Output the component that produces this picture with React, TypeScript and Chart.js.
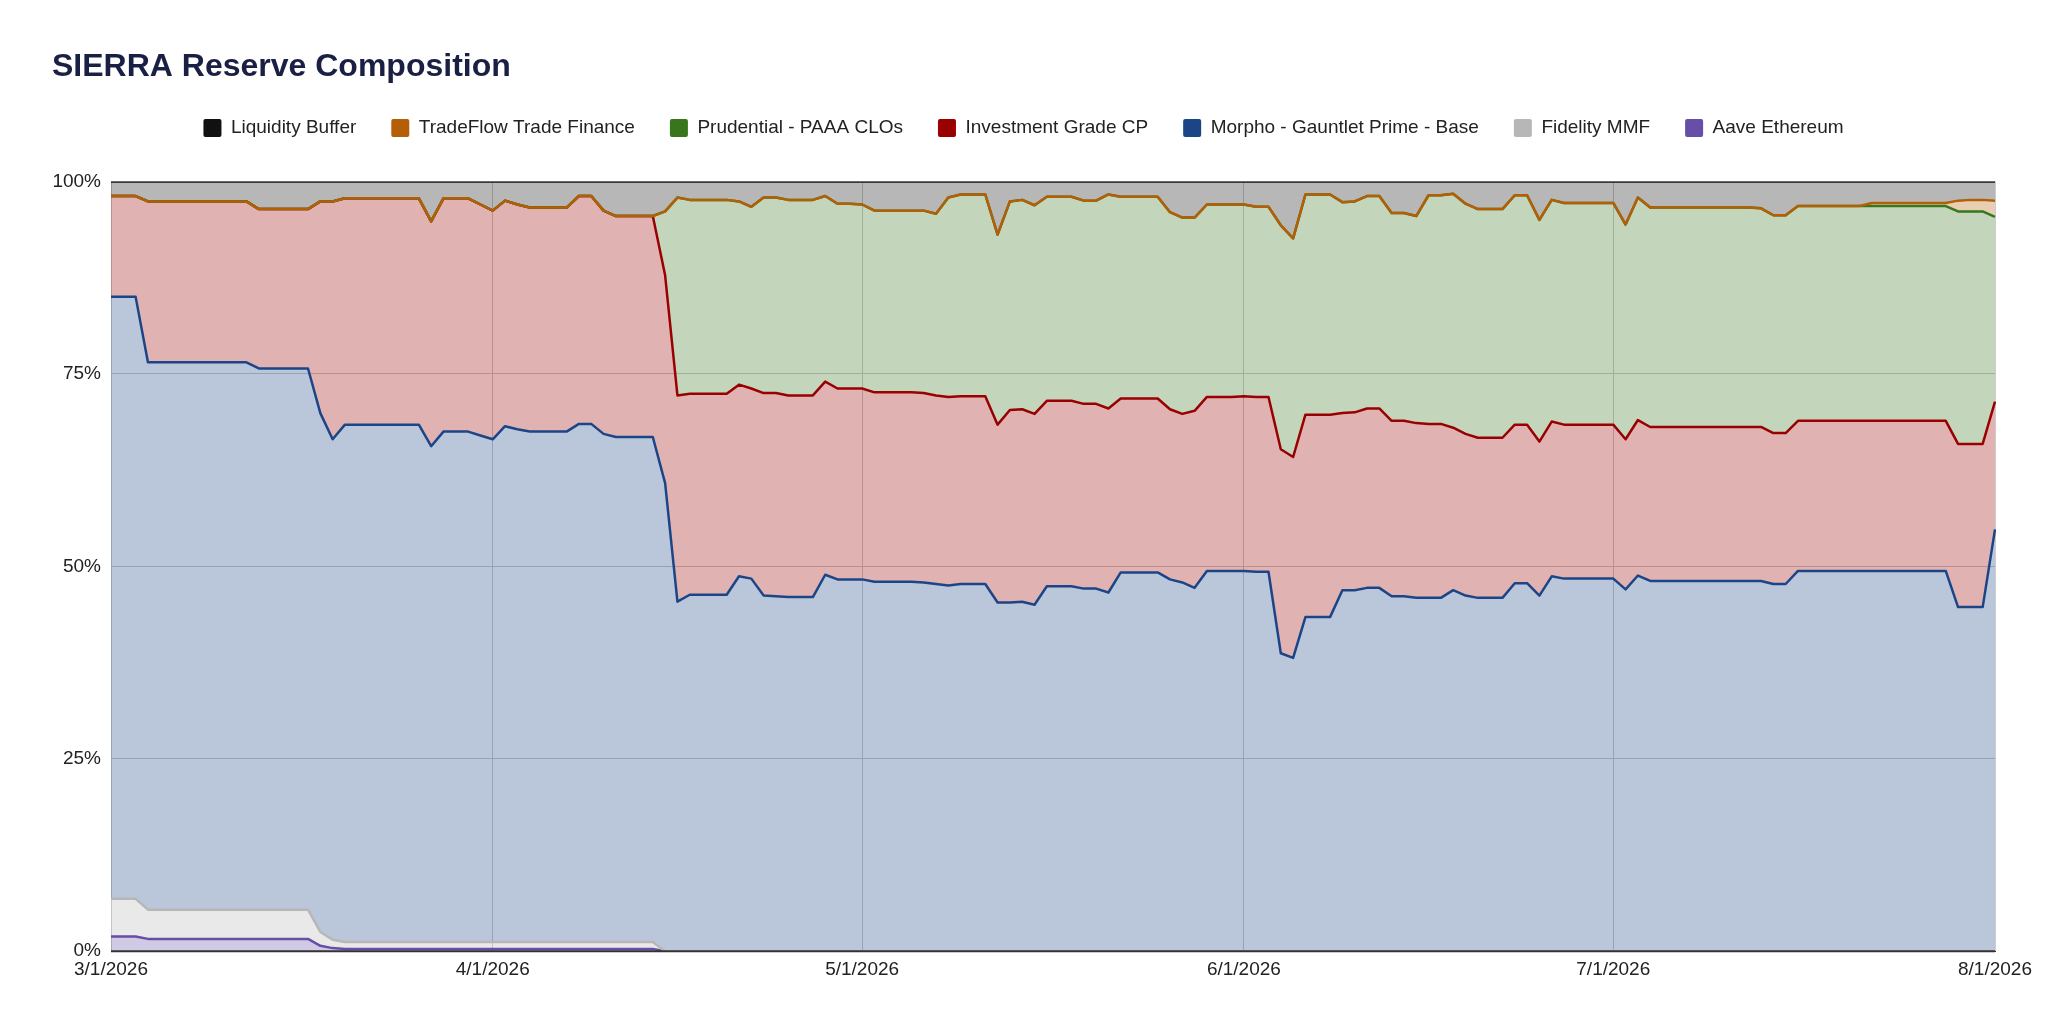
import React, { useEffect, useRef } from 'react';
import Chart from 'chart.js/auto';

const FONT = "'Liberation Sans', Arial, Helvetica, sans-serif";

// daily points, 3/1/2026 .. 8/1/2026
const months: [number, number][] = [[3, 31], [4, 30], [5, 31], [6, 30], [7, 31], [8, 1]];
const dates: string[] = months.flatMap(([m, n]) =>
  Array.from({ length: n }, (_, i) => `${m}/${i + 1}/2026`)
);
const tickLabels = ['3/1/2026', '4/1/2026', '5/1/2026', '6/1/2026', '7/1/2026', '8/1/2026'];
const yTicks = [0, 25, 50, 75, 100];

const seriesNames = [
  'Liquidity Buffer',
  'TradeFlow Trade Finance',
  'Prudential - PAAA CLOs',
  'Investment Grade CP',
  'Morpho - Gauntlet Prime - Base',
  'Fidelity MMF',
  'Aave Ethereum',
];
const seriesColors = ['#111111', '#b45f06', '#38761d', '#990000', '#1c4587', '#b7b7b7', '#674ea7'];

// share of reserve, % (one row per month)
const liquidity = [
  1.9, 1.9, 1.9, 2.6, 2.6, 2.6, 2.6, 2.6, 2.6, 2.6, 2.6, 2.6, 3.6, 3.6, 3.6, 3.6, 3.6, 2.6, 2.6, 2.2, 2.2, 2.2, 2.2, 2.2, 2.2, 2.2, 5.2, 2.2, 2.2, 2.2, 3.0,
  3.8, 2.5, 3.0, 3.4, 3.4, 3.4, 3.4, 1.9, 1.9, 3.8, 4.5, 4.5, 4.5, 4.5, 3.9, 2.1, 2.4, 2.4, 2.4, 2.4, 2.6, 3.3, 2.1, 2.1, 2.4, 2.4, 2.4, 1.9, 2.9, 2.9,
  3.0, 3.8, 3.8, 3.8, 3.8, 3.8, 4.2, 2.1, 1.7, 1.7, 1.7, 6.9, 2.6, 2.4, 3.1, 2.0, 2.0, 2.0, 2.5, 2.5, 1.7, 2.0, 2.0, 2.0, 2.0, 4.0, 4.7, 4.7, 3.0, 3.0, 3.0,
  3.0, 3.3, 3.3, 5.7, 7.4, 1.7, 1.7, 1.7, 2.7, 2.6, 1.9, 1.9, 4.1, 4.1, 4.5, 1.8, 1.8, 1.6, 2.9, 3.6, 3.6, 3.6, 1.8, 1.8, 5.0, 2.4, 2.8, 2.8, 2.8, 2.8,
  2.8, 5.6, 2.1, 3.4, 3.4, 3.4, 3.4, 3.4, 3.4, 3.4, 3.4, 3.4, 3.5, 4.4, 4.4, 3.2, 3.2, 3.2, 3.2, 3.2, 3.2, 2.8, 2.8, 2.8, 2.8, 2.8, 2.8, 2.8, 2.5, 2.4, 2.4,
  2.5,
];
const tradeflow = [
  0, 0, 0, 0, 0, 0, 0, 0, 0, 0, 0, 0, 0, 0, 0, 0, 0, 0, 0, 0, 0, 0, 0, 0, 0, 0, 0, 0, 0, 0, 0,
  0, 0, 0, 0, 0, 0, 0, 0, 0, 0, 0, 0, 0, 0, 0, 0, 0, 0, 0, 0, 0, 0, 0, 0, 0, 0, 0, 0, 0, 0,
  0, 0, 0, 0, 0, 0, 0, 0, 0, 0, 0, 0, 0, 0, 0, 0, 0, 0, 0, 0, 0, 0, 0, 0, 0, 0, 0, 0, 0, 0, 0,
  0, 0, 0, 0, 0, 0, 0, 0, 0, 0, 0, 0, 0, 0, 0, 0, 0, 0, 0, 0, 0, 0, 0, 0, 0, 0, 0, 0, 0, 0,
  0, 0, 0, 0, 0, 0, 0, 0, 0, 0, 0, 0, 0, 0, 0, 0, 0, 0, 0, 0, 0, 0.4, 0.4, 0.4, 0.4, 0.4, 0.4, 0.4, 1.4, 1.5, 1.5,
  2.1,
];
const prudential = [
  0, 0, 0, 0, 0, 0, 0, 0, 0, 0, 0, 0, 0, 0, 0, 0, 0, 0, 0, 0, 0, 0, 0, 0, 0, 0, 0, 0, 0, 0, 0,
  0, 0, 0, 0, 0, 0, 0, 0, 0, 0, 0, 0, 0, 0, 8.3, 25.7, 25.2, 25.2, 25.2, 25.2, 23.8, 23.6, 25.4, 25.4, 25.4, 25.4, 25.4, 24.1, 24.0, 24.0,
  23.9, 23.6, 23.6, 23.6, 23.6, 23.7, 23.6, 25.9, 26.2, 26.2, 26.2, 24.7, 27.1, 27.2, 27.1, 26.5, 26.5, 26.5, 26.4, 26.4, 27.8, 26.2, 26.2, 26.2, 26.2, 25.6, 25.5, 25.1, 25.0, 25.0, 25.0,
  24.9, 24.7, 24.7, 29.1, 28.4, 28.6, 28.6, 28.6, 27.4, 27.4, 27.6, 27.6, 27.0, 27.0, 26.9, 29.7, 29.7, 30.4, 29.9, 29.7, 29.7, 29.7, 29.8, 29.8, 28.8, 28.8, 28.8, 28.8, 28.8, 28.8,
  28.8, 27.9, 28.9, 28.5, 28.5, 28.5, 28.5, 28.5, 28.5, 28.5, 28.5, 28.5, 28.4, 28.3, 28.3, 27.9, 27.9, 27.9, 27.9, 27.9, 27.9, 27.9, 27.9, 27.9, 27.9, 27.9, 27.9, 27.9, 30.2, 30.2, 30.2,
  24.0,
];
const igcp = [
  13.1, 13.1, 13.1, 20.9, 20.9, 20.9, 20.9, 20.9, 20.9, 20.9, 20.9, 20.9, 20.7, 20.7, 20.7, 20.7, 20.7, 27.5, 30.9, 29.4, 29.4, 29.4, 29.4, 29.4, 29.4, 29.4, 29.2, 30.3, 30.3, 30.3, 30.0,
  29.7, 29.3, 29.2, 29.1, 29.1, 29.1, 29.1, 29.6, 29.6, 29.0, 28.7, 28.7, 28.7, 28.7, 27.0, 26.8, 26.1, 26.1, 26.1, 26.1, 24.9, 24.7, 26.3, 26.4, 26.2, 26.2, 26.2, 25.1, 24.8, 24.8,
  24.8, 24.6, 24.6, 24.6, 24.6, 24.6, 24.5, 24.5, 24.4, 24.4, 24.4, 23.1, 25.0, 25.0, 24.8, 24.1, 24.1, 24.1, 24.0, 24.0, 23.9, 22.6, 22.6, 22.6, 22.6, 22.1, 21.9, 23.0, 22.6, 22.6, 22.6,
  22.7, 22.7, 22.7, 26.5, 26.1, 26.3, 26.3, 26.3, 23.0, 23.1, 23.3, 23.3, 22.8, 22.8, 22.7, 22.6, 22.6, 21.1, 21.0, 20.8, 20.8, 20.8, 20.6, 20.6, 20.0, 20.1, 20.0, 20.0, 20.0, 20.0,
  20.0, 19.5, 20.2, 20.0, 20.0, 20.0, 20.0, 20.0, 20.0, 20.0, 20.0, 20.0, 20.0, 19.6, 19.6, 19.5, 19.5, 19.5, 19.5, 19.5, 19.5, 19.5, 19.5, 19.5, 19.5, 19.5, 19.5, 19.5, 21.2, 21.2, 21.2,
  16.6,
];
const morpho = [
  78.2, 78.2, 78.2, 71.1, 71.1, 71.1, 71.1, 71.1, 71.1, 71.1, 71.1, 71.1, 70.3, 70.3, 70.3, 70.3, 70.3, 67.4, 65.0, 67.2, 67.2, 67.2, 67.2, 67.2, 67.2, 67.2, 64.4, 66.3, 66.3, 66.3, 65.8,
  65.3, 67.0, 66.6, 66.3, 66.3, 66.3, 66.3, 67.3, 67.3, 66.0, 65.6, 65.6, 65.6, 65.6, 60.8, 45.4, 46.3, 46.3, 46.3, 46.3, 48.7, 48.4, 46.2, 46.1, 46.0, 46.0, 46.0, 48.9, 48.3, 48.3,
  48.3, 48.0, 48.0, 48.0, 48.0, 47.9, 47.7, 47.5, 47.7, 47.7, 47.7, 45.3, 45.3, 45.4, 45.0, 47.4, 47.4, 47.4, 47.1, 47.1, 46.6, 49.2, 49.2, 49.2, 49.2, 48.3, 47.9, 47.2, 49.4, 49.4, 49.4,
  49.4, 49.3, 49.3, 38.7, 38.1, 43.4, 43.4, 43.4, 46.9, 46.9, 47.2, 47.2, 46.1, 46.1, 45.9, 45.9, 45.9, 46.9, 46.2, 45.9, 45.9, 45.9, 47.8, 47.8, 46.2, 48.7, 48.4, 48.4, 48.4, 48.4,
  48.4, 47.0, 48.8, 48.1, 48.1, 48.1, 48.1, 48.1, 48.1, 48.1, 48.1, 48.1, 48.1, 47.7, 47.7, 49.4, 49.4, 49.4, 49.4, 49.4, 49.4, 49.4, 49.4, 49.4, 49.4, 49.4, 49.4, 49.4, 44.7, 44.7, 44.7,
  54.8,
];
const fidelity = [
  4.9, 4.9, 4.9, 3.8, 3.8, 3.8, 3.8, 3.8, 3.8, 3.8, 3.8, 3.8, 3.8, 3.8, 3.8, 3.8, 3.8, 1.8, 1.1, 0.9, 0.9, 0.9, 0.9, 0.9, 0.9, 0.9, 0.9, 0.9, 0.9, 0.9, 0.9,
  0.9, 0.9, 0.9, 0.9, 0.9, 0.9, 0.9, 0.9, 0.9, 0.9, 0.9, 0.9, 0.9, 0.9, 0, 0, 0, 0, 0, 0, 0, 0, 0, 0, 0, 0, 0, 0, 0, 0,
  0, 0, 0, 0, 0, 0, 0, 0, 0, 0, 0, 0, 0, 0, 0, 0, 0, 0, 0, 0, 0, 0, 0, 0, 0, 0, 0, 0, 0, 0, 0,
  0, 0, 0, 0, 0, 0, 0, 0, 0, 0, 0, 0, 0, 0, 0, 0, 0, 0, 0, 0, 0, 0, 0, 0, 0, 0, 0, 0, 0, 0,
  0, 0, 0, 0, 0, 0, 0, 0, 0, 0, 0, 0, 0, 0, 0, 0, 0, 0, 0, 0, 0, 0, 0, 0, 0, 0, 0, 0, 0, 0, 0,
  0,
];
const aave = [
  1.9, 1.9, 1.9, 1.6, 1.6, 1.6, 1.6, 1.6, 1.6, 1.6, 1.6, 1.6, 1.6, 1.6, 1.6, 1.6, 1.6, 0.7, 0.4, 0.3, 0.3, 0.3, 0.3, 0.3, 0.3, 0.3, 0.3, 0.3, 0.3, 0.3, 0.3,
  0.3, 0.3, 0.3, 0.3, 0.3, 0.3, 0.3, 0.3, 0.3, 0.3, 0.3, 0.3, 0.3, 0.3, 0, 0, 0, 0, 0, 0, 0, 0, 0, 0, 0, 0, 0, 0, 0, 0,
  0, 0, 0, 0, 0, 0, 0, 0, 0, 0, 0, 0, 0, 0, 0, 0, 0, 0, 0, 0, 0, 0, 0, 0, 0, 0, 0, 0, 0, 0, 0,
  0, 0, 0, 0, 0, 0, 0, 0, 0, 0, 0, 0, 0, 0, 0, 0, 0, 0, 0, 0, 0, 0, 0, 0, 0, 0, 0, 0, 0, 0,
  0, 0, 0, 0, 0, 0, 0, 0, 0, 0, 0, 0, 0, 0, 0, 0, 0, 0, 0, 0, 0, 0, 0, 0, 0, 0, 0, 0, 0, 0, 0,
  0,
];

const series = [liquidity, tradeflow, prudential, igcp, morpho, fidelity, aave];

const hexToRgba = (hex: string, a: number) => {
  const n = parseInt(hex.slice(1), 16);
  return `rgba(${(n >> 16) & 255}, ${(n >> 8) & 255}, ${n & 255}, ${a})`;
};

// stack from the bottom series (last) up to the top one (first)
const stacked: number[][] = [];
for (let i = series.length - 1; i >= 0; i--) {
  const below = i < series.length - 1 ? stacked[i + 1] : null;
  stacked[i] = series[i].map((v, k) => Math.round((v + (below ? below[k] : 0)) * 100) / 100);
}

// push the plot area down below the legend
const legendGap = {
  id: 'legendGap',
  beforeLayout(chart: any) {
    const lg = chart.legend;
    if (lg && !lg._gapPatched) {
      const fit = lg.fit;
      lg.fit = function () {
        fit.call(lg);
        lg.height += 34;
      };
      lg._gapPatched = true;
    }
  },
};

// dark zero line drawn over the areas
const baseline = {
  id: 'baseline',
  afterDatasetsDraw(chart: any) {
    const { ctx, chartArea, scales } = chart;
    const y = scales.y.getPixelForValue(0);
    ctx.save();
    ctx.strokeStyle = '#333333';
    ctx.lineWidth = 2;
    ctx.beginPath();
    ctx.moveTo(chartArea.left, y);
    ctx.lineTo(chartArea.right, y);
    ctx.stroke();
    ctx.restore();
  },
};

export default function App() {
  const chartRef = useRef<HTMLCanvasElement | null>(null);

  useEffect(() => {
    if (!chartRef.current) return;
    const ctx = chartRef.current.getContext('2d');
    if (!ctx) return;

    const myChart = new Chart(ctx, {
      type: 'line',
      data: {
        labels: dates,
        datasets: seriesNames.map((name, i) => ({
          label: name,
          data: stacked[i],
          borderColor: seriesColors[i],
          backgroundColor: hexToRgba(seriesColors[i], 0.3),
          borderWidth: 2.5,
          pointRadius: 0,
          pointHoverRadius: 0,
          tension: 0,
          borderJoinStyle: 'round' as const,
          fill: i === series.length - 1 ? 'origin' : '+1',
        })),
      },
      options: {
        responsive: true,
        maintainAspectRatio: false,
        animation: false,
        events: [],
        layout: { padding: { top: 20, left: 44, right: 45, bottom: 36 } },
        plugins: {
          filler: { drawTime: 'beforeDatasetsDraw' },
          tooltip: { enabled: false },
          title: {
            display: true,
            text: 'SIERRA Reserve Composition',
            align: 'start',
            color: '#1a1f44',
            font: { family: FONT, size: 32, weight: 'bold' },
            padding: { top: 20, bottom: -3 },
          },
          legend: {
            display: true,
            position: 'top',
            labels: {
              color: '#222222',
              font: { family: FONT, size: 19 },
              boxWidth: 18,
              boxHeight: 18,
              padding: 35,
              useBorderRadius: true,
              borderRadius: 2,
              generateLabels: (chart: any) =>
                chart.data.datasets.map((ds: any, i: number) => ({
                  text: ds.label,
                  fillStyle: seriesColors[i],
                  strokeStyle: seriesColors[i],
                  lineWidth: 0,
                  hidden: false,
                  datasetIndex: i,
                  fontColor: '#222222',
                  borderRadius: 2,
                })),
            },
          },
        },
        scales: {
          x: {
            type: 'category',
            offset: false,
            afterBuildTicks: (scale: any) => {
              scale.ticks = scale.ticks.filter((t: any) => tickLabels.includes(dates[t.value]));
            },
            ticks: {
              autoSkip: false,
              maxRotation: 0,
              padding: 7,
              color: '#222222',
              font: { family: FONT, size: 19 },
            },
            grid: { color: '#cccccc', drawTicks: false },
            border: { display: true, color: '#333333' },
          },
          y: {
            min: yTicks[0],
            max: yTicks[yTicks.length - 1],
            afterBuildTicks: (scale: any) => {
              scale.ticks = yTicks.map((v) => ({ value: v }));
            },
            afterFit: (scale: any) => {
              scale.width = 59;
            },
            ticks: {
              padding: 10,
              color: '#222222',
              font: { family: FONT, size: 19 },
              callback: (v: any) => `${v}%`,
            },
            grid: {
              color: (c: any) => (c.tick && c.tick.value === 0 ? '#333333' : '#cccccc'),
              drawTicks: false,
            },
            border: { display: false },
          },
        },
      },
      plugins: [legendGap, baseline],
    });

    return () => {
      myChart.destroy();
    };
  }, []);

  return (
    <div style={{ position: 'relative', width: '100%', height: 1016 }}>
      <canvas ref={chartRef} />
    </div>
  );
}
